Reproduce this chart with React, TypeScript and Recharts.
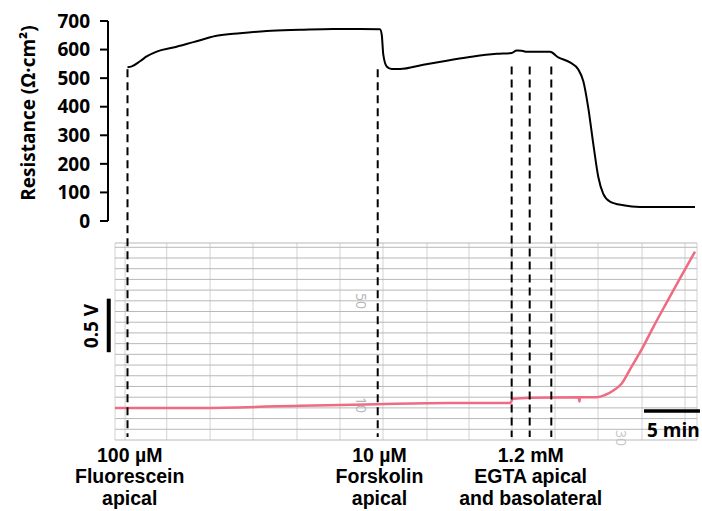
import React from 'react'
import { LineChart, Line, XAxis, YAxis, CartesianGrid, ReferenceLine } from 'recharts'

// minutes after fluorescein addition
const resistanceTime = [0, 0.38, 1.12, 1.71, 2.61, 4.09, 5.88, 7.96, 10.04, 12.43, 15.4, 18.35, 20.76, 22.54, 22.7, 22.84, 23.14, 23.59, 24.33, 26.41, 28.5, 30.88, 32.96, 34.3, 34.75, 35.2, 35.64, 37.72, 38.46, 39.51, 40.25, 40.7, 41.14, 41.59, 42.04, 42.48, 43.08, 44.27, 45.76, 50.67]
const resistanceValue = [538, 541, 559, 576, 593, 607, 626, 648, 657, 665, 669, 672, 672, 671, 652, 582, 541, 532, 532, 547, 561, 576, 585, 588, 597, 596, 592, 592, 573, 555, 530, 489, 396, 269, 153, 95, 68, 55, 49, 49]

const voltageTime = [-1.12, 6.47, 15.4, 22.28, 28.8, 34.15, 34.42, 35.94, 40.3, 40.35, 40.4, 41.92, 42.63, 43.35, 44.15, 44.87, 46.03, 46.92, 48.17, 49.33, 50.67]
const voltageValue = [0, 0, 0.02, 0.035, 0.045, 0.045, 0.085, 0.095, 0.1, 0.06, 0.1, 0.1, 0.12, 0.16, 0.23, 0.36, 0.57, 0.75, 0.99, 1.21, 1.46]

const resistanceTicks = [0, 100, 200, 300, 400, 500, 600, 700]

const eventTimes = [0, 22.34, 34.3, 35.91, 37.84]
const eventStart = [531, 531, 541, 541, 541]

const eventLabels = [
  { t: 0.2, lines: ['100 µM', 'Fluorescein', 'apical'] },
  { t: 22.5, lines: ['10 µM', 'Forskolin', 'apical'] },
  { t: 36.0, lines: ['1.2 mM', 'EGTA apical', 'and basolateral'] },
]

// chart recorder paper
const gridTimes = [-0.22, 3.5, 7.37, 11.2, 15.13, 18.97, 22.81, 26.74, 30.49, 34.33, 38.17, 42.01, 45.94, 49.78]
const gridVolts = [-0.3, -0.2, -0.1, 0, 0.1, 0.2, 0.3, 0.4, 0.5, 0.6, 0.7, 0.8, 0.9, 1.0, 1.1, 1.2, 1.3, 1.4, 1.5]

const W = 702
const H = 511
const PX_PER_MIN = 11.2
const ORIGIN_X = 127.5
const toMin = (x: number) => (x - ORIGIN_X) / PX_PER_MIN

const resistanceData = resistanceTime.map((t, i) => ({ t, r: resistanceValue[i] }))
const voltageData = voltageTime.map((t, i) => ({ t, v: voltageValue[i] }))

// dashed markers run down through the recorder trace
const DASH_BOTTOM = -((437 - 221) * 700) / 200

const font = '"Open Sans", "DejaVu Sans", sans-serif'
const labelFont = '"Liberation Sans", Arial, sans-serif'

export default function App() {
  return (
    <div style={{ position: 'absolute', left: 0, top: 0, width: W, height: H, background: '#fff', fontFamily: font, overflow: 'hidden' }}>
      <div style={{ position: 'absolute', left: 0, top: 0 }}>
        <LineChart width={W} height={H} data={voltageData} margin={{ top: 243, right: 5, bottom: 71, left: 115 }}>
          <XAxis dataKey="t" type="number" domain={[toMin(115), toMin(697)]} ticks={gridTimes} interval={0} hide />
          <YAxis type="number" domain={[-0.3, 1.54]} ticks={gridVolts} interval={0} hide />
          <CartesianGrid horizontal={false} vertical stroke="#d2d2d2" strokeWidth={1} />
          <CartesianGrid horizontal vertical={false} stroke="#b8b8b8" strokeWidth={1} />
          <Line type="monotone" dataKey="v" stroke="#ee6b82" strokeWidth={2.5} dot={false} isAnimationActive={false} />
          <ReferenceLine segment={[{ x: toMin(108.7), y: 0.52 }, { x: toMin(108.7), y: 1.02 }]} stroke="#000" strokeWidth={4} ifOverflow="visible" />
          <ReferenceLine segment={[{ x: toMin(644), y: -0.028 }, { x: toMin(700), y: -0.028 }]} stroke="#000" strokeWidth={3.5} ifOverflow="visible" />
        </LineChart>
      </div>
      <div style={{ position: 'absolute', left: 0, top: 0 }}>
        <LineChart width={W} height={H} data={resistanceData} margin={{ top: 21, right: 5, bottom: 290, left: 8 }}>
          <XAxis dataKey="t" type="number" domain={[toMin(108), toMin(697)]} hide />
          <YAxis
            type="number"
            domain={[0, 700]}
            ticks={resistanceTicks}
            width={100}
            interval={0}
            tickSize={8}
            tickMargin={10}
            axisLine={{ stroke: '#000', strokeWidth: 2 }}
            tickLine={{ stroke: '#000', strokeWidth: 2 }}
            tick={{ fill: '#000', fontSize: 19, fontWeight: 700, fontFamily: font }}
          />
          {eventTimes.map((t, i) => (
            <ReferenceLine
              key={i}
              segment={[{ x: t, y: eventStart[i] }, { x: t, y: DASH_BOTTOM }]}
              stroke="#000"
              strokeWidth={2}
              strokeDasharray="8 5"
              ifOverflow="visible"
            />
          ))}
          <Line type="monotone" dataKey="r" stroke="#000" strokeWidth={2} dot={false} isAnimationActive={false} />
        </LineChart>
      </div>

      <div style={{ position: 'absolute', left: 27.5 - 120, top: 113 - 13, width: 240, height: 26, lineHeight: '26px', textAlign: 'center', transform: 'rotate(-90deg)', fontSize: 19, fontWeight: 700, color: '#000' }}>
        Resistance (Ω·cm²)
      </div>
      <div style={{ position: 'absolute', left: 91 - 40, top: 326 - 13, width: 80, height: 26, lineHeight: '26px', textAlign: 'center', transform: 'rotate(-90deg)', fontSize: 19, fontWeight: 700, color: '#000' }}>
        0.5 V
      </div>
      <div style={{ position: 'absolute', left: 647, top: 417, fontSize: 19, fontWeight: 700, lineHeight: '26px', color: '#000', whiteSpace: 'nowrap' }}>
        5 min
      </div>
      {['50', '10'].map((s, i) => (
        <div key={s} style={{ position: 'absolute', left: 349, top: i === 0 ? 292 : 396, width: 24, height: 18, lineHeight: '18px', textAlign: 'center', transform: 'rotate(90deg)', fontSize: 14, color: '#b4b4b4' }}>
          {s}
        </div>
      ))}
      <div style={{ position: 'absolute', left: 609, top: 429, width: 24, height: 18, lineHeight: '18px', textAlign: 'center', transform: 'rotate(90deg)', fontSize: 14, color: '#c4c4c4' }}>
        30
      </div>
      {eventLabels.map((ev) => (
        <div key={ev.lines[0]} style={{ position: 'absolute', left: ORIGIN_X + ev.t * PX_PER_MIN - 100, top: 444.5, width: 200, textAlign: 'center', fontFamily: labelFont, fontSize: 19.5, fontWeight: 700, lineHeight: '21.9px', color: '#000' }}>
          {ev.lines.map((l) => <div key={l} style={{ height: 21.9 }}>{l}</div>)}
        </div>
      ))}
    </div>
  )
}
